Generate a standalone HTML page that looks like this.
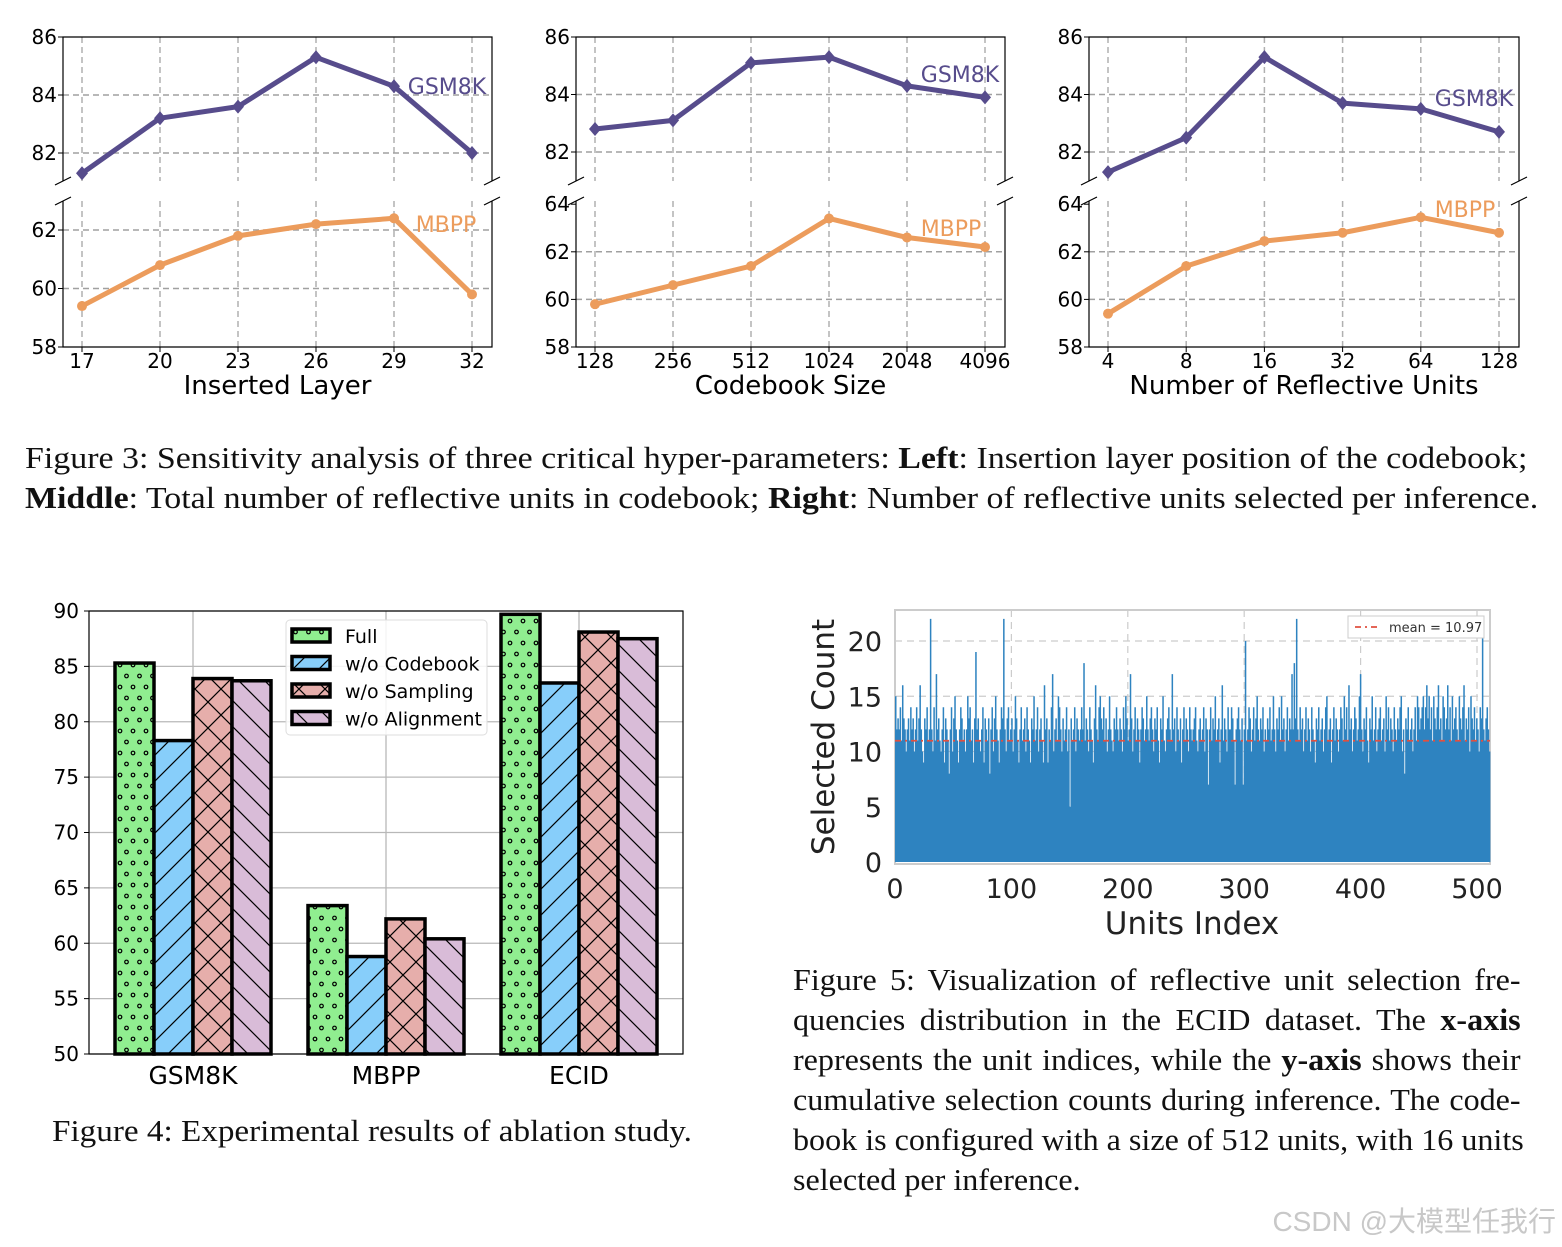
<!DOCTYPE html>
<html><head><meta charset="utf-8">
<style>
html,body{margin:0;padding:0;background:#fff;}
body{width:1562px;height:1247px;position:relative;overflow:hidden;font-family:"Liberation Sans","DejaVu Sans",sans-serif;}
.cap{position:absolute;font-family:"Liberation Serif",serif;font-size:31px;color:#111;line-height:40px;white-space:nowrap;transform-origin:0 0;}
.j{display:block;width:703px;text-align:justify;text-align-last:justify;}
.wm{position:absolute;right:6px;top:1200px;font-size:28px;color:#c8c8c8;font-family:"Liberation Sans","Noto Sans CJK SC",sans-serif;}
</style></head>
<body>
<svg id="main" width="1562" height="1247" style="position:absolute;left:0;top:0" font-family="DejaVu Sans, Liberation Sans, sans-serif">
<defs>
<pattern id="pDots" width="13" height="22" patternUnits="userSpaceOnUse"><rect width="13" height="22" fill="#90ee90"/><circle cx="3" cy="5" r="1.8" fill="none" stroke="#000" stroke-width="1.2"/><circle cx="9.5" cy="16" r="1.8" fill="none" stroke="#000" stroke-width="1.2"/></pattern>
<pattern id="pFwd" width="26" height="26" patternUnits="userSpaceOnUse"><rect width="26" height="26" fill="#87cefa"/><path d="M0 26L26 0M-13 13L13 -13M13 39L39 13" stroke="#000" stroke-width="1.2"/></pattern>
<pattern id="pX" width="26" height="26" patternUnits="userSpaceOnUse"><rect width="26" height="26" fill="#e6aeab"/><path d="M0 26L26 0M-13 13L13 -13M13 39L39 13M0 0L26 26M-13 13L13 39M13 -13L39 13" stroke="#000" stroke-width="1.2"/></pattern>
<pattern id="pBack" width="26" height="26" patternUnits="userSpaceOnUse"><rect width="26" height="26" fill="#d9bcd8"/><path d="M0 0L26 26M-13 13L13 39M13 -13L39 13" stroke="#000" stroke-width="1.2"/></pattern>
</defs>
</svg>
<div class="cap" style="left:25px;top:438px;transform:scaleX(1.094);">Figure 3: Sensitivity analysis of three critical hyper-parameters: <b>Left</b>: Insertion layer position of the codebook;<br><b>Middle</b>: Total number of reflective units in codebook; <b>Right</b>: Number of reflective units selected per inference.</div>
<div class="cap" style="left:52px;top:1111px;transform:scaleX(1.07);">Figure 4: Experimental results of ablation study.</div>
<div class="cap" style="left:793px;top:960px;transform:scaleX(1.035);"><span class="j">Figure 5: Visualization of reflective unit selection fre-</span><span class="j">quencies distribution in the ECID dataset. The <b>x-axis</b></span><span class="j">represents the unit indices, while the <b>y-axis</b> shows their</span><span class="j">cumulative selection counts during inference. The code-</span><span class="j">book is configured with a size of 512 units, with 16 units</span><span style="display:block">selected per inference.</span></div>
<div class="wm">CSDN @大模型任我行</div>
<script>
// ---- Figure 3 data ----
const p1Cats = ["17","20","23","26","29","32"];
const p1Gsm = [81.3,83.2,83.6,85.3,84.3,82.0];
const p1Mbpp = [59.4,60.8,61.8,62.2,62.4,59.8];
const p2Cats = ["128","256","512","1024","2048","4096"];
const p2Gsm = [82.8,83.1,85.1,85.3,84.3,83.9];
const p2Mbpp = [59.8,60.6,61.4,63.4,62.6,62.2];
const p3Cats = ["4","8","16","32","64","128"];
const p3Gsm = [81.3,82.5,85.3,83.7,83.5,82.7];
const p3Mbpp = [59.4,61.4,62.45,62.8,63.45,62.8];
const topTicks = [82,84,86];
const botTicks1 = [58,60,62];
const botTicks2 = [58,60,62,64];
// ---- Figure 4 data ----
const barGroups = ["GSM8K","MBPP","ECID"];
const seriesNames = ["Full","w/o Codebook","w/o Sampling","w/o Alignment"];
const fullVals = [85.3,63.4,89.7];
const codebookVals = [78.3,58.8,83.5];
const samplingVals = [83.9,62.2,88.1];
const alignVals = [83.7,60.4,87.5];
const barTicks = [50,55,60,65,70,75,80,85,90];
// ---- Figure 5 data ----
const histTicksX = [0,100,200,300,400,500];
const histTicksY = [0,5,10,15,20];
const histMean = 10.97;
const histCounts = [
15,12,13,12,14,11,16,13,12,10,12,13,11,14,12,13,10,12,14,11,13,16,12,10,9,13,12,14,11,12,22,12,
10,14,11,17,12,13,11,10,12,14,9,13,12,11,8,12,14,10,13,15,12,11,9,12,14,13,11,12,10,12,15,13,
14,11,12,9,13,19,12,13,11,10,12,14,9,13,12,11,13,8,12,14,10,13,15,12,11,9,12,14,13,22,12,10,
13,14,11,12,13,10,12,15,13,11,9,12,14,11,12,13,10,14,12,11,9,13,12,15,11,12,14,10,12,13,11,9,
16,12,13,9,12,11,14,17,10,12,13,11,15,14,12,10,13,11,12,14,10,12,5,13,11,12,14,10,13,12,11,12,
14,12,18,11,13,12,10,14,12,11,9,13,16,12,11,14,15,13,12,14,11,13,10,12,15,12,11,10,13,12,14,12,
11,13,12,10,14,12,15,13,11,12,17,13,10,12,14,11,13,12,9,12,14,13,11,12,15,12,11,13,14,12,10,13,
12,14,11,9,13,12,15,11,10,12,13,14,12,11,17,12,13,10,14,12,11,13,9,12,14,11,13,12,10,14,12,11,
12,13,14,11,10,12,13,11,12,14,10,13,12,7,12,14,11,13,12,15,11,12,13,9,12,16,11,13,12,10,14,12,
12,14,13,11,7,12,13,14,12,11,13,7,12,20,11,12,14,13,10,12,14,11,13,15,12,11,13,12,14,10,12,11,
13,12,14,11,12,15,12,10,13,12,14,11,15,12,13,10,12,14,11,13,12,17,12,18,13,22,12,11,14,12,13,10,
12,14,11,13,12,10,14,12,11,9,13,12,14,11,12,13,10,12,14,15,11,12,13,9,12,14,11,13,12,10,12,14,
13,11,15,12,14,11,16,12,13,10,12,14,13,11,12,15,17,12,10,13,12,14,11,9,13,12,15,11,12,14,10,12,
13,14,11,12,13,10,15,12,14,11,13,12,10,14,12,11,13,12,14,15,10,12,8,13,12,14,11,12,13,10,12,14,
11,15,14,12,13,14,15,12,14,16,13,15,12,14,11,15,13,12,14,16,12,13,11,15,14,12,13,16,12,14,11,15,
12,13,14,12,11,15,13,12,14,16,11,13,12,14,10,15,13,12,14,11,13,12,10,14,13,21,12,11,13,14,12,10
];

const svg = document.getElementById('main');
const NS = 'http://www.w3.org/2000/svg';
function mk(tag, attrs, parent){const e=document.createElementNS(NS,tag);for(const k in attrs)e.setAttribute(k,attrs[k]);(parent||svg).appendChild(e);return e;}
function txt(x,y,s,size,anchor,fill,parent){const t=mk('text',{x:x,y:y,'font-size':size,'text-anchor':anchor||'middle',fill:fill||'#000'},parent);t.textContent=s;return t;}

// ---- Figure 3 panels ----
function linePanel(id, x0, x1, cats, gsm, mbpp, topY, botY, botTicks, xlabel){
  const g = mk('g',{});
  
  
  const n = cats.length;
  const px0 = x0 + 19, px1 = x1 - 20;
  const xs = i => px0 + (px1-px0)*i/(n-1);
  const yTop = v => topY.y0 + (topY.v0 - v)*topY.k;
  const yBot = v => botY.y0 + (botY.v0 - v)*botY.k;
  for(let i=0;i<n;i++){
    mk('line',{x1:xs(i),x2:xs(i),y1:37,y2:181,stroke:'#b0b0b0','stroke-dasharray':'6 4','stroke-width':1.5},g);
    mk('line',{x1:xs(i),x2:xs(i),y1:201,y2:347,stroke:'#b0b0b0','stroke-dasharray':'6 4','stroke-width':1.5},g);
  }
  topTicks.forEach(v=>{
    const y=yTop(v);
    if(v<86) mk('line',{x1:x0,x2:x1,y1:y,y2:y,stroke:'#a0a0a0','stroke-dasharray':'6 4','stroke-width':1.5},g);
    mk('line',{x1:x0-5,x2:x0,y1:y,y2:y,stroke:'#000'},g);
    const t=txt(x0-6,y+7,String(v),20,'end','#000',g);
    
    
  });
  botTicks.forEach(v=>{
    const y=yBot(v);
    if(v>58 && v<64) mk('line',{x1:x0,x2:x1,y1:y,y2:y,stroke:'#a0a0a0','stroke-dasharray':'6 4','stroke-width':1.5},g);
    mk('line',{x1:x0-5,x2:x0,y1:y,y2:y,stroke:'#000'},g);
    const t=txt(x0-6,y+7,String(v),20,'end','#000',g);
    
    
  });
  mk('path',{d:`M${x0} 181V37H${x1}V181`,fill:'none',stroke:'#000','stroke-width':1.2},g);
  mk('path',{d:`M${x0} 201V347H${x1}V201`,fill:'none',stroke:'#000','stroke-width':1.2},g);
  [[x0,181],[x1,181],[x0,201],[x1,201]].forEach(p=>mk('line',{x1:p[0]-8,y1:p[1]+4,x2:p[0]+8,y2:p[1]-4,stroke:'#000','stroke-width':1.2},g));
  cats.forEach((c,i)=>{
    mk('line',{x1:xs(i),x2:xs(i),y1:347,y2:352,stroke:'#000'},g);
    const t=txt(xs(i),368,c,20,'middle','#000',g);
    
    
  });
  const xl=txt((x0+x1)/2,394,xlabel,26,'middle','#000',g);
  
  
  const gp = gsm.map((v,i)=>`${xs(i)},${yTop(v)}`).join(' ');
  const gl = mk('polyline',{points:gp,fill:'none',stroke:'#574c8c','stroke-width':5,'stroke-linejoin':'round'},g);
  
  
  gsm.forEach((v,i)=>{const x=xs(i),y=yTop(v);
    const m=mk('path',{d:`M${x} ${y-7}L${x+6} ${y}L${x} ${y+7}L${x-6} ${y}Z`,fill:'#574c8c'},g);
    
    });
  const mp = mbpp.map((v,i)=>`${xs(i)},${yBot(v)}`).join(' ');
  const ml = mk('polyline',{points:mp,fill:'none',stroke:'#ec9c5c','stroke-width':5,'stroke-linejoin':'round'},g);
  
  
  mbpp.forEach((v,i)=>{
    const c=mk('circle',{cx:xs(i),cy:yBot(v),r:5,fill:'#ec9c5c'},g);
    
    });
  return {g, x1};
}
const pa = linePanel('panel-inserted-layer',63,492,p1Cats,p1Gsm,p1Mbpp,{y0:37,v0:86,k:29},{y0:347,v0:58,k:29.25},botTicks1,'Inserted Layer');
let t;
t=txt(447,94,'GSM8K',22,'middle','#574c8c',pa.g);
t=txt(446,232,'MBPP',22,'middle','#ec9c5c',pa.g);
const pb = linePanel('panel-codebook-size',576,1005,p2Cats,p2Gsm,p2Mbpp,{y0:37,v0:86,k:28.75},{y0:347,v0:58,k:23.8},botTicks2,'Codebook Size');
t=txt(960,82,'GSM8K',22,'middle','#574c8c',pb.g);
t=txt(951,236,'MBPP',22,'middle','#ec9c5c',pb.g);
const pc = linePanel('panel-reflective-units',1089,1519,p3Cats,p3Gsm,p3Mbpp,{y0:37,v0:86,k:28.75},{y0:347,v0:58,k:23.8},botTicks2,'Number of Reflective Units');
t=txt(1474,106,'GSM8K',22,'middle','#574c8c',pc.g);
t=txt(1465,217,'MBPP',22,'middle','#ec9c5c',pc.g);

// ---- Figure 4 bar chart ----
(function(){
  const g = mk('g',{});
  
  
  const X0=89,X1=683,Y0=1054,Y1=611;
  const y = v => Y0 - (v-50)*(Y0-Y1)/40;
  const centers = [193,386,579];
  const bw = 39;
  barTicks.forEach(v=>{
    mk('line',{x1:X0,x2:X1,y1:y(v),y2:y(v),stroke:'#b8b8b8','stroke-width':1.3},g);
    mk('line',{x1:X0-5,x2:X0,y1:y(v),y2:y(v),stroke:'#000'},g);
    const tt=txt(X0-10,y(v)+7,String(v),20,'end','#000',g);
    
    
  });
  centers.forEach(c=>mk('line',{x1:c,x2:c,y1:Y1,y2:Y0,stroke:'#b8b8b8','stroke-width':1.3},g));
  const series=[fullVals,codebookVals,samplingVals,alignVals];
  const fills=['url(#pDots)','url(#pFwd)','url(#pX)','url(#pBack)'];
  const keys=['full','wo-codebook','wo-sampling','wo-alignment'];
  series.forEach((vals,s)=>{
    vals.forEach((v,gi)=>{
      const x=centers[gi]-2*bw+s*bw;
      const r=mk('rect',{x:x,y:y(v),width:bw,height:Y0-y(v),fill:fills[s],stroke:'#000','stroke-width':3.5},g);
      
      
    });
  });
  mk('rect',{x:X0,y:Y1,width:X1-X0,height:Y0-Y1,fill:'none',stroke:'#000','stroke-width':1.2},g);
  barGroups.forEach((n,i)=>{
    const tt=txt(centers[i],1084,n,25,'middle','#000',g);
    
    
  });
  const lg = mk('g',{},g);
  
  
  mk('rect',{x:286,y:620,width:201,height:115,rx:4,fill:'#fff','fill-opacity':0.85,stroke:'#ddd'},lg);
  seriesNames.forEach((n,i)=>{
    const yy=636+i*27.5;
    const sw=mk('rect',{x:292,y:yy-7,width:38,height:13,fill:fills[i],stroke:'#000','stroke-width':3.5},lg);
    
    
    const tt=txt(345,yy+7,n,19,'start','#000',lg);
    
    
  });
})();

// ---- Figure 5 histogram ----
(function(){
  const g = mk('g',{});
  
  
  const X0=895,X1=1490,Y0=862,Ytop=610;
  const xs = v => X0 + v*1.164;
  const ys = v => Y0 - v*11.05;
  mk('rect',{x:X0,y:Ytop,width:X1-X0,height:864-Ytop,fill:'#fff',stroke:'#ccc','stroke-width':2},g);
  histTicksX.forEach(v=>{ if(v>0) mk('line',{x1:xs(v),x2:xs(v),y1:Ytop,y2:Y0,stroke:'#ccc','stroke-dasharray':'7 5','stroke-width':1.2},g);
    const tt=txt(xs(v),898,String(v),27,'middle','#222',g);
    
    });
  histTicksY.forEach(v=>{ if(v>0) mk('line',{x1:X0,x2:X1,y1:ys(v),y2:ys(v),stroke:'#ccc','stroke-dasharray':'7 5','stroke-width':1.2},g);
    const tt=txt(882,ys(v)+10,String(v),27,'end','#222',g);
    
    });
  const bw=(X1-X0)/histCounts.length;
  let d='';
  histCounts.forEach((c,i)=>{ const x=X0+i*bw; d+=`M${x.toFixed(2)} ${Y0}V${ys(c).toFixed(2)}H${(x+bw+0.35).toFixed(2)}V${Y0}Z`; });
  const bars=mk('path',{d:d,fill:'#2e83c0'},g);
  
  
  const ml=mk('line',{x1:X0,x2:X1,y1:ys(histMean),y2:ys(histMean),stroke:'#e05040','stroke-width':1.8,'stroke-dasharray':'6 4 2 4'},g);
  
  
  const lg=mk('g',{},g);
  
  
  mk('rect',{x:1348,y:616,width:136,height:22,fill:'#fff',stroke:'#ccc'},lg);
  mk('line',{x1:1355,x2:1380,y1:627,y2:627,stroke:'#e05040','stroke-width':1.8,'stroke-dasharray':'6 4 2 4'},lg);
  txt(1389,632,'mean = 10.97',13,'start','#333',lg);
  const xt=txt(1192,934,'Units Index',31,'middle','#222',g);
  
  
  const yt=txt(0,0,'Selected Count',31,'middle','#222',g);
  yt.setAttribute('transform','translate(834,737) rotate(-90)');
  
  
})();
</script>
</body></html>
